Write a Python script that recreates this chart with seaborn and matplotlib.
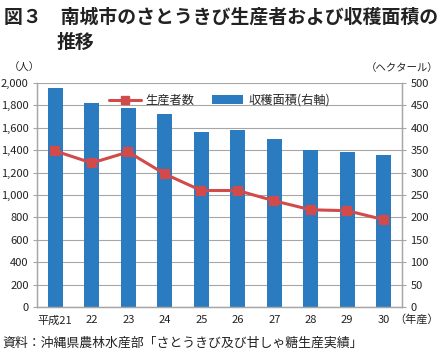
import matplotlib
matplotlib.use("Agg")
import matplotlib.pyplot as plt
import seaborn as sns
import pandas as pd
from matplotlib.lines import Line2D
from matplotlib.patches import Patch

years = ["平成21", "22", "23", "24", "25", "26", "27", "28", "29", "30"]
producers = [1393, 1286, 1384, 1188, 1040, 1040, 948, 868, 860, 780]
area = [488, 455, 445, 430, 390, 396, 376, 351, 347, 339]
left_ticks = [0, 200, 400, 600, 800, 1000, 1200, 1400, 1600, 1800, 2000]
right_ticks = [0, 50, 100, 150, 200, 250, 300, 350, 400, 450, 500]

sns.set_style("white")
plt.rcParams["font.family"] = ["Noto Sans CJK JP", "DejaVu Sans"]

df = pd.DataFrame({"year": years, "producers": producers, "area": area})

BLUE = "#2b7bc0"
RED = "#d24a4a"
GRID = "#a6a6a6"
TXT = "#222222"

fig = plt.figure(figsize=(4.41, 3.60), dpi=100)
ax1 = fig.add_axes([37/441, 1-307/360, (402-37)/441, (307-83)/360])
ax2 = ax1.twinx()

# bars on right axis
sns.barplot(data=df, x="year", y="area", ax=ax2, color=BLUE, width=0.42,
            saturation=1, edgecolor="none")
ax2.set_ylim(0, 500)
ax2.set_yticks(right_ticks)
ax2.set_yticklabels([str(t) for t in right_ticks], fontsize=8, color=TXT)
ax2.yaxis.grid(True, color=GRID, linewidth=0.8)
ax2.set_axisbelow(True)
ax2.set_ylabel("")
ax2.set_xlabel("")

# line on left axis
sns.pointplot(data=df, x="year", y="producers", ax=ax1, color=RED,
              markers="s", markersize=6, linewidth=2.2)
ax1.set_ylim(0, 2000)
ax1.set_yticks(left_ticks)
ax1.set_yticklabels([f"{t:,}" for t in left_ticks], fontsize=8, color=TXT)
ax1.set_ylabel("")
ax1.set_xlabel("")
ax1.set_xlim(-0.5, len(years) - 0.5)
ax1.tick_params(axis="x", labelsize=8, colors=TXT, length=0, pad=6)
ax1.tick_params(axis="y", length=3, color=GRID, pad=3)
ax2.tick_params(axis="y", length=3, color=GRID, pad=3)

ax1.set_zorder(ax2.get_zorder() + 1)
ax1.patch.set_visible(False)

for ax in (ax1, ax2):
    for s in ax.spines.values():
        s.set_color(GRID)
        s.set_linewidth(0.9)
    ax.spines["top"].set_visible(False)

handles = [
    Line2D([0], [0], color=RED, lw=2.2, marker="s", markersize=6),
    Patch(facecolor=BLUE, edgecolor="none"),
]
ax1.legend(handles, ["生産者数", "収穫面積(右軸)"], loc="upper center",
           bbox_to_anchor=(0.5, 1.0), ncol=2, frameon=False, fontsize=8.8,
           handlelength=2.6, columnspacing=1.4, handletextpad=0.4)

fig.text(0.008, 0.953, "図３　南城市のさとうきび生産者および収穫面積の",
         fontsize=13.6, fontweight="bold", color=TXT, va="center")
fig.text(0.128, 0.881, "推移", fontsize=13.6, fontweight="bold", color=TXT,
         va="center")
fig.text(0.02, 0.812, "（人）", fontsize=7.5, color=TXT, va="center")
fig.text(0.995, 0.812, "（ヘクタール）", fontsize=7.5, color=TXT,
         va="center", ha="right")
fig.text(0.995, 0.112, "（年産）", fontsize=8, color=TXT, va="center",
         ha="right")
fig.text(0.005, 0.047, "資料：沖縄県農林水産部「さとうきび及び甘しゃ糖生産実績」",
         fontsize=9.3, color=TXT, va="center")

fig.savefig("out.png", dpi=100, facecolor="white")
